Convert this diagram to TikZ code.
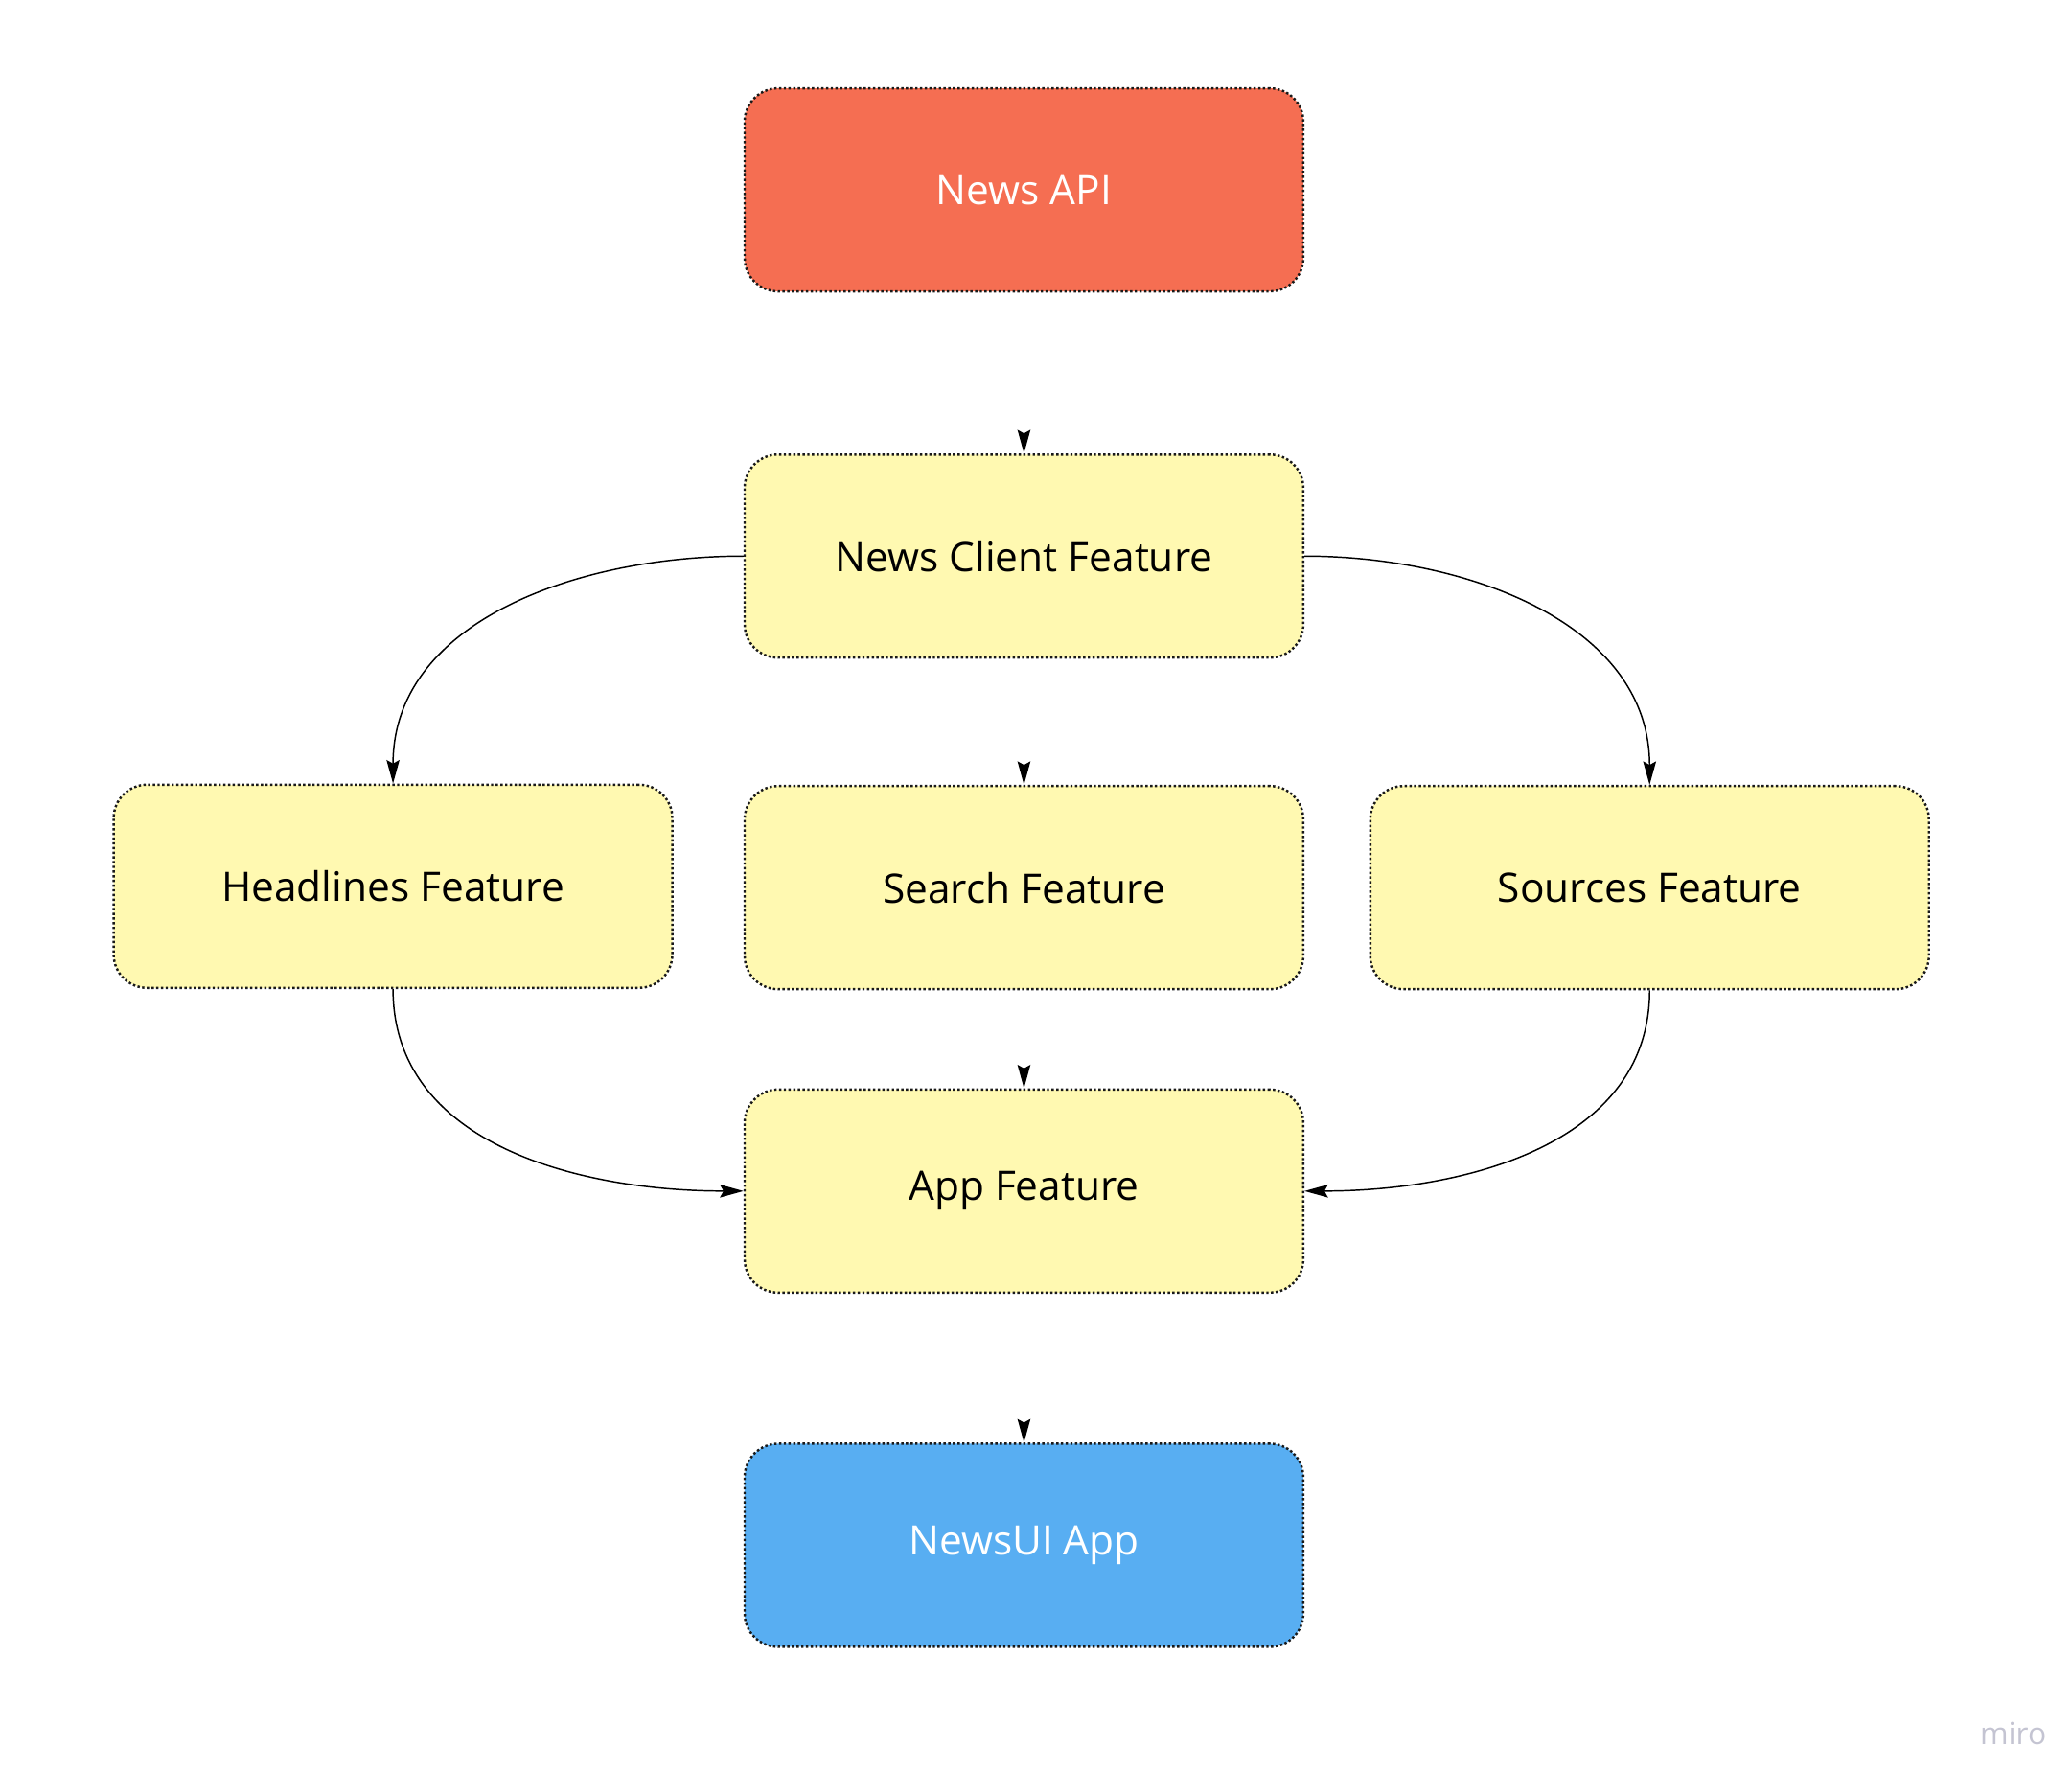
\documentclass[tikz,border=0pt]{standalone}
\usepackage{fontspec}
\setmainfont{Open Sans}
\usetikzlibrary{arrows.meta}

\definecolor{apired}{RGB}{245,110,82}
\definecolor{featyellow}{RGB}{255,249,177}
\definecolor{appblue}{RGB}{88,174,242}
\definecolor{mirogray}{RGB}{196,196,210}

\begin{document}
\begin{tikzpicture}[
    x=0.02cm, y=-0.02cm,
    box/.style={draw=black!90, line width=1pt, dash pattern=on 1pt off 1pt,
        rounded corners=0.5cm, minimum width=8.36cm, minimum height=3.04cm,
        font=\fontsize{17.3}{20}\selectfont},
    feature/.style={box, fill=featyellow, text=black},
    flow/.style={line width=0.6pt, -{Stealth[length=10pt, width=5.5pt, inset=1.5pt]}},
    ]
    \useasboundingbox (0,0) rectangle (1550,1325);
    % boxes
    \node[box, fill=apired, text=white] (api) at (766,142) {News API};
    \node[feature] (client) at (766,416) {News Client Feature};
    \node[feature] (headlines) at (294,663) {Headlines Feature};
    \node[feature] (search) at (766,664) {Search Feature};
    \node[feature] (sources) at (1234,664) {Sources Feature};
    \node[feature] (appfeat) at (766,891) {App Feature};
    \node[box, fill=appblue, text=white] (newsui) at (766,1156) {NewsUI App};
    % watermark
    \node[text=mirogray, font=\fontsize{13}{15}\selectfont] (miro) at (1506,1297) {miro};
    % arrows
    \draw[flow] (api) -- (client);
    \draw[flow] (client.west) to[out=180, in=90] (headlines.north);
    \draw[flow] (client) -- (search);
    \draw[flow] (client.east) to[out=0, in=90] (sources.north);
    \draw[flow] (headlines.south) to[out=-90, in=180] (appfeat.west);
    \draw[flow] (search) -- (appfeat);
    \draw[flow] (sources.south) to[out=-90, in=0] (appfeat.east);
    \draw[flow] (appfeat) -- (newsui);
\end{tikzpicture}
\end{document}
